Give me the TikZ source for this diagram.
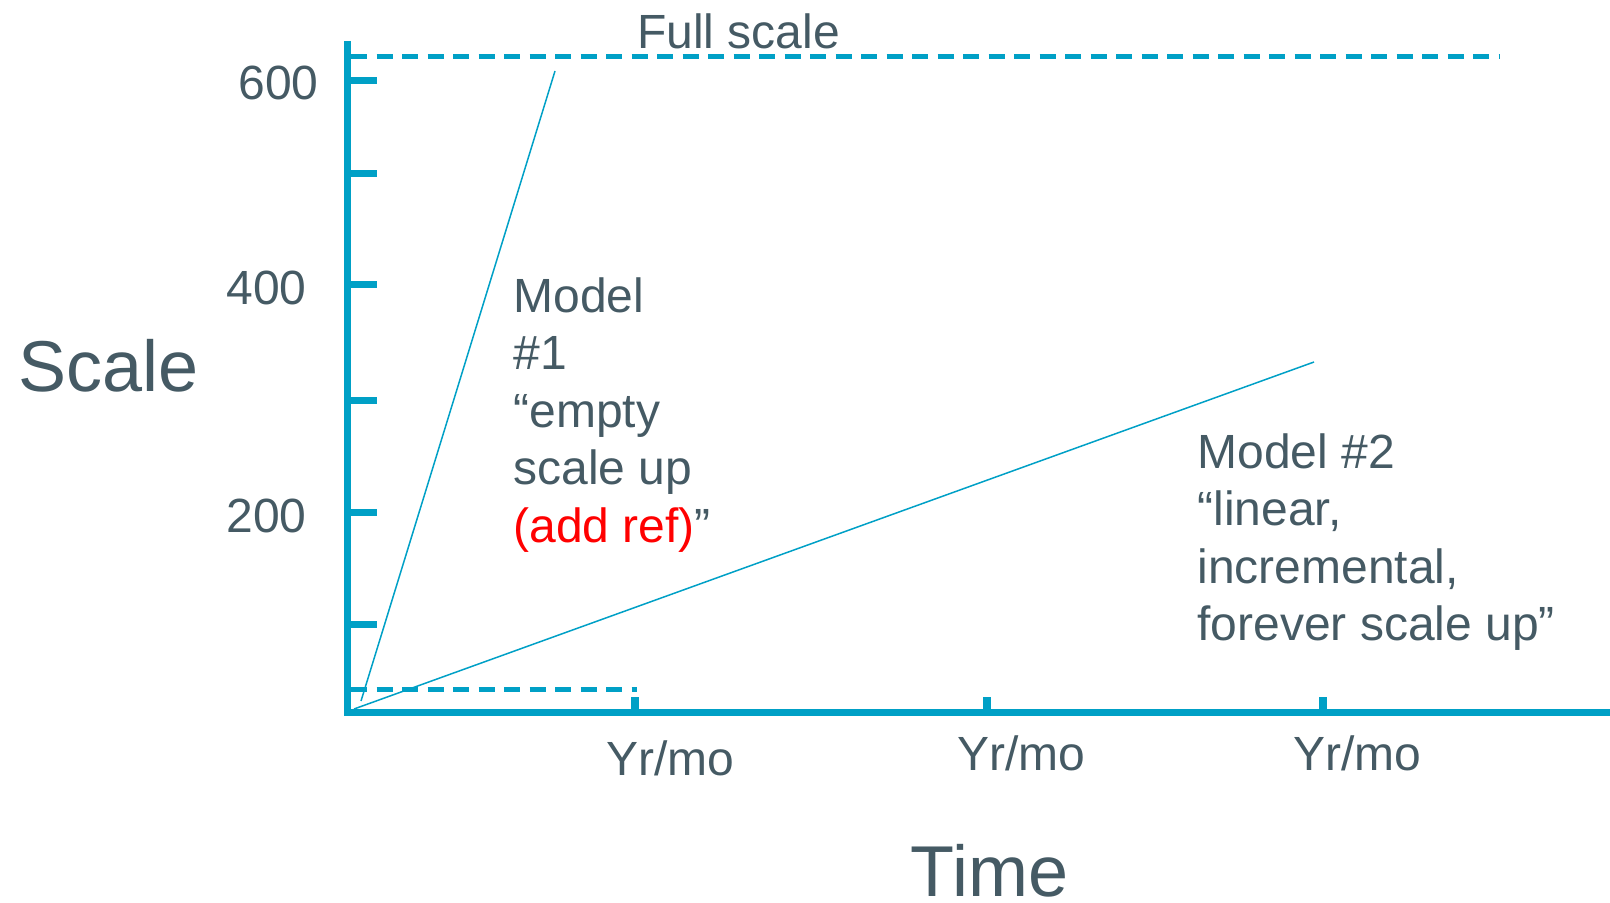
\documentclass[tikz,border=0pt]{standalone}
\usepackage{fontspec}
\setmainfont{Liberation Sans}
\usetikzlibrary{positioning, calc}
\definecolor{axisblue}{RGB}{0,160,198}
\definecolor{slate}{RGB}{69,90,100}
\tikzstyle{axisline}=[line width=3.5pt,draw=axisblue]
\tikzstyle{tickline}=[line width=3.5pt,draw=axisblue]
\tikzstyle{dashline}=[line width=2.5pt,draw=axisblue,dash pattern=on 8pt off 4.75pt]
\tikzstyle{modelline}=[line width=0.75pt,draw=axisblue]
\tikzstyle{ticklabel}=[inner sep=0pt,text=slate,font=\fontsize{24}{28.75}\selectfont]
\tikzstyle{bigtext}=[inner sep=0pt,text=slate,font=\fontsize{36}{43}\selectfont]
\tikzstyle{modeltext}=[inner sep=0pt,text=slate,align=left,anchor=north west,
font=\fontsize{24}{28.75}\selectfont]

\begin{document}
\begin{tikzpicture}[x=0.5pt,y=-0.5pt]
    \useasboundingbox (0,0) rectangle (1610,903);
    \coordinate (origin) at (347,712);
    \coordinate (ytop) at (347,41);
    \coordinate (xend) at (1610,712);
    \coordinate (m1start) at (361,701);
    \coordinate (m1end) at (555,71);
    \coordinate (m2start) at (354,709);
    \coordinate (m2end) at (1314,362);

    % axes and ticks
    \draw[axisline] (ytop) -- (origin) -- (xend);
    \foreach \y in {81,174,285,400,512,624}
        \draw[tickline] (347,\y) -- (377,\y);
    \foreach \x in {635,987,1323}
        \draw[tickline,line width=4pt] (\x,712) -- (\x,697);

    % full scale and start levels
    \draw[dashline] (351,57) -- (1499,57);
    \draw[dashline] (351,689) -- (637,689);

    % the two models
    \draw[modelline] (m1start) -- (m1end);
    \draw[modelline] (m2start) -- (m2end);

    \node[bigtext, anchor=base west] (scalelabel) at (18,392) {Scale};
    \node[bigtext, anchor=base] (timelabel) at (989.5,896) {Time};
    \node[ticklabel, anchor=base] (fullscale) at (738.5,49) {Full scale};
    \node[ticklabel, anchor=base east] (y600) at (319,100) {600};
    \node[ticklabel, anchor=base east] (y400) at (307,305) {400};
    \node[ticklabel, anchor=base east] (y200) at (307,532) {200};
    \node[ticklabel, anchor=base] (t1) at (670,775) {Yr/mo};
    \node[ticklabel, anchor=base] (t2) at (1021.5,770) {Yr/mo};
    \node[ticklabel, anchor=base] (t3) at (1357.5,770) {Yr/mo};
    \node[modeltext] (model1) at (513,277)
        {Model\\\#1\\“empty\\scale up\\{\color{red}(add ref)}”};
    \node[modeltext] (model2) at (1197,433)
        {Model \#2\\“linear,\\incremental,\\forever scale up”};
\end{tikzpicture}
\end{document}
